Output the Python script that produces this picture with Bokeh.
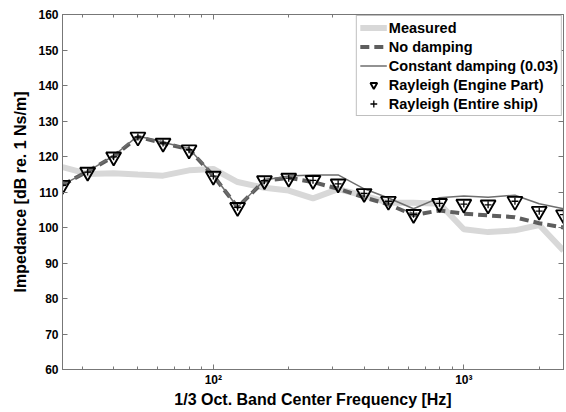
from bokeh.plotting import figure
from bokeh.models import FixedTicker, LinearAxis, LogAxis, Legend, LegendItem
from bokeh.embed import file_html
from bokeh.resources import INLINE

freqs = [25, 31.5, 40, 50, 63, 80, 100, 125, 160, 200, 250, 315, 400, 500,
         630, 800, 1000, 1250, 1600, 2000, 2500]
measured = [117.0, 115.1, 115.3, 114.9, 114.6, 116.1, 116.5, 112.8, 111.2, 110.4,
            108.2, 110.8, 109.0, 107.0, 107.0, 106.7, 99.5, 98.7, 99.2, 100.7, 93.5]
no_damping = [112.0, 115.8, 120.0, 125.5, 123.8, 122.0, 114.6, 105.7, 113.2, 114.0,
              112.8, 110.9, 108.5, 106.5, 103.5, 104.8, 103.9, 103.4, 102.9, 101.2, 100.0]
const_damping = [112.0, 115.8, 120.2, 125.8, 124.0, 122.2, 114.8, 105.7, 113.4, 114.5,
                 114.8, 114.8, 110.9, 108.3, 105.3, 108.4, 108.9, 108.5, 109.1, 106.7, 105.3]
rayleigh_engine = [111.9, 115.6, 119.9, 125.5, 123.8, 121.9, 114.5, 105.7, 113.2, 113.9,
                   113.3, 112.3, 109.6, 107.4, 103.7, 106.8, 106.6, 106.4, 107.4, 104.6, 103.6]
rayleigh_ship = [111.9, 115.6, 119.9, 125.5, 123.8, 121.9, 114.5, 105.7, 113.2, 113.9,
                 113.3, 112.3, 109.6, 107.4, 103.7, 106.8, 106.6, 106.4, 107.4, 104.6, 103.6]

y_ticks = [60, 70, 80, 90, 100, 110, 120, 130, 140, 150, 160]
x_major = [100, 1000]
x_minor = [30, 40, 50, 60, 70, 80, 90, 200, 300, 400, 500, 600, 700, 800, 900, 2000]
x_labels = {100: "10²", 1000: "10³"}

FONT = "Liberation Sans"
AX = "#777777"

p = figure(width=566, height=412, x_axis_type="log", x_range=(25, 2500), y_range=(60, 160),
           output_backend="svg", toolbar_location=None,
           min_border_left=62, min_border_right=3, min_border_top=14, min_border_bottom=43)
p.background_fill_color = "white"
p.border_fill_color = "white"
p.outline_line_color = AX
p.xgrid.visible = False
p.ygrid.visible = False

r_meas = p.line(freqs, measured, line_color="#d8d8d8", line_width=6)
r_nod = p.line(freqs, no_damping, line_color="#5e5e5e", line_width=4, line_dash="9 5")
r_const = p.line(freqs, const_damping, line_color="#6e6e6e", line_width=1.5)
r_eng = p.scatter(freqs, rayleigh_engine, marker="inverted_triangle", size=15,
                  fill_color=None, line_color="black", line_width=1.9)
r_ship = p.scatter(freqs, rayleigh_ship, marker="cross", size=7,
                   line_color="black", line_width=1.3)

def style_axis(ax, show_labels):
    ax.axis_line_color = AX
    ax.major_tick_line_color = AX
    ax.minor_tick_line_color = AX
    ax.major_tick_in = 5
    ax.major_tick_out = 0
    ax.minor_tick_in = 3
    ax.minor_tick_out = 0
    ax.major_label_text_font = FONT
    ax.major_label_text_font_style = "bold"
    if show_labels:
        ax.major_label_text_color = "black"
        ax.major_label_text_font_size = "12px"
    else:
        ax.major_label_text_alpha = 0.0
        ax.major_label_text_font_size = "1px"
    ax.axis_label_text_font = FONT
    ax.axis_label_text_font_style = "bold"
    ax.axis_label_text_color = "black"

xa = p.xaxis[0]
xa.ticker = FixedTicker(ticks=x_major, minor_ticks=x_minor)
xa.major_label_overrides = x_labels
xa.axis_label = "1/3 Oct. Band Center Frequency [Hz]"
xa.axis_label_text_font_size = "16px"
xa.axis_label_standoff = 1
xa.major_label_standoff = 3
style_axis(xa, True)

ya = p.yaxis[0]
ya.ticker = FixedTicker(ticks=y_ticks, minor_ticks=[])
ya.axis_label = "Impedance [dB re. 1 Ns/m]"
ya.axis_label_text_font_size = "16px"
ya.axis_label_standoff = 6
ya.major_label_standoff = 4
style_axis(ya, True)

top = LogAxis(ticker=FixedTicker(ticks=x_major, minor_ticks=x_minor), major_label_standoff=0)
style_axis(top, False)
p.add_layout(top, "above")
right = LinearAxis(ticker=FixedTicker(ticks=y_ticks, minor_ticks=[]), major_label_standoff=0)
style_axis(right, False)
p.add_layout(right, "right")

legend = Legend(items=[
    LegendItem(label="Measured", renderers=[r_meas]),
    LegendItem(label="No damping", renderers=[r_nod]),
    LegendItem(label="Constant damping (0.03)", renderers=[r_const]),
    LegendItem(label="Rayleigh (Engine Part)", renderers=[r_eng]),
    LegendItem(label="Rayleigh (Entire ship)", renderers=[r_ship]),
], location="top_right")
legend.label_text_font = FONT
legend.label_text_font_style = "bold"
legend.label_text_font_size = "14.5px"
legend.label_text_color = "black"
legend.glyph_width = 27
legend.glyph_height = 17
legend.label_height = 17
legend.label_standoff = 2
legend.spacing = 2
legend.padding = 3
legend.margin = 1
legend.border_line_color = "#808080"
legend.border_line_width = 1
legend.background_fill_color = "white"
legend.background_fill_alpha = 1.0
p.add_layout(legend)

open("out.html", "w").write(file_html(p, INLINE))
